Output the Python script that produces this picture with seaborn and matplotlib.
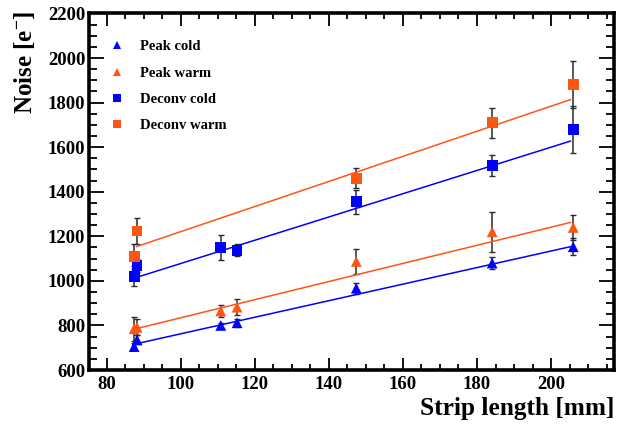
import numpy as np
import pandas as pd
import matplotlib
matplotlib.use("Agg")
import matplotlib.pyplot as plt
from matplotlib.ticker import MultipleLocator
import seaborn as sns

# Measured noise versus strip length, peak and deconvolution modes
series_names = ["Peak cold", "Peak warm", "Deconv cold", "Deconv warm"]

strip_length = [87.4, 88.2, 110.8, 115.2, 147.4, 184.1, 206.0]
strip_length_dw = [87.4, 88.2, 147.4, 184.1, 206.0]

peak_cold = [705, 735, 800, 812, 967, 1080, 1153]
peak_cold_err = [15, 20, 12, 18, 25, 25, 38]

peak_warm = [785, 792, 865, 882, 1087, 1220, 1240]
peak_warm_err = [55, 35, 27, 36, 57, 90, 55]

deconv_cold = [1020, 1068, 1150, 1138, 1355, 1517, 1680]
deconv_cold_err = [45, 30, 55, 28, 55, 48, 105]

deconv_warm = [1110, 1224, 1460, 1710, 1880]
deconv_warm_err = [55, 57, 45, 68, 105]

# Straight-line fit results (slope, intercept) for each series
fit_slope = [3.715, 4.065, 5.22, 5.63]
fit_intercept = [391, 428, 556, 658]
fit_range = [88.0, 205.3]

colors = {"Peak cold": "#0000ff", "Peak warm": "#ff5511",
          "Deconv cold": "#0000ff", "Deconv warm": "#ff5511"}
markers = {"Peak cold": "^", "Peak warm": "^",
           "Deconv cold": "s", "Deconv warm": "s"}

frames = []
for name, xs, ys, es in [
    ("Peak cold", strip_length, peak_cold, peak_cold_err),
    ("Peak warm", strip_length, peak_warm, peak_warm_err),
    ("Deconv cold", strip_length, deconv_cold, deconv_cold_err),
    ("Deconv warm", strip_length_dw, deconv_warm, deconv_warm_err),
]:
    frames.append(pd.DataFrame({"length": xs, "noise": ys, "err": es, "series": name}))
df = pd.concat(frames, ignore_index=True)

sns.set_style("white")
plt.rcParams["font.family"] = ["Liberation Serif", "DejaVu Serif"]
plt.rcParams["font.weight"] = "bold"
plt.rcParams["text.color"] = "black"
plt.rcParams["axes.labelcolor"] = "black"
plt.rcParams["xtick.color"] = "black"
plt.rcParams["ytick.color"] = "black"
plt.rcParams["mathtext.fontset"] = "custom"
plt.rcParams["mathtext.rm"] = "Liberation Serif:bold"
plt.rcParams["mathtext.bf"] = "Liberation Serif:bold"
plt.rcParams["mathtext.it"] = "Liberation Serif:bold:italic"

fig = plt.figure(figsize=(6.19, 4.28), dpi=100)
ax = fig.add_axes([0.1443, 0.1355, 0.9919 - 0.1443, 0.9685 - 0.1355])

# error bars
ax.errorbar(df["length"], df["noise"], yerr=df["err"], fmt="none",
            ecolor="#2b2b2b", elinewidth=1.1, capsize=2.2, capthick=1.0, zorder=2)

# fitted lines
xfit = np.array(fit_range)
for name, m, b in zip(series_names, fit_slope, fit_intercept):
    sns.lineplot(x=xfit, y=m * xfit + b, color=colors[name], lw=1.1, ax=ax, zorder=3)

sns.scatterplot(data=df, x="length", y="noise", hue="series", style="series",
                hue_order=series_names, style_order=series_names,
                palette=colors, markers=markers, s=60, linewidth=0,
                ax=ax, zorder=4)

ax.set_xlim(75.3, 217.0)
ax.set_ylim(600, 2200)
ax.xaxis.set_major_locator(MultipleLocator(20))
ax.xaxis.set_minor_locator(MultipleLocator(5))
ax.yaxis.set_major_locator(MultipleLocator(200))
ax.yaxis.set_minor_locator(MultipleLocator(50))

ax.tick_params(which="both", direction="in", top=True, right=True,
               bottom=True, left=True, width=1.3, colors="black")
ax.tick_params(axis="x", which="major", length=9, labelsize=13.5, pad=4)
ax.tick_params(axis="x", which="minor", length=4.5)
ax.tick_params(axis="y", which="major", length=11, labelsize=13.5, pad=3)
ax.tick_params(axis="y", which="minor", length=5.5)
for lab in ax.get_xticklabels() + ax.get_yticklabels():
    lab.set_fontweight("bold")
    lab.set_color("black")

for sp in ax.spines.values():
    sp.set_linewidth(2.6)
    sp.set_color("black")

ax.set_xlabel("")
ax.set_ylabel("")
fig.text(0.9919, 0.03, "Strip length [mm]", ha="right", va="baseline",
         fontsize=18.3, fontweight="bold", color="black")
fig.text(0.02, 0.975, "Noise [e$^{-}$]", ha="left", va="top", rotation=90,
         fontsize=18, fontweight="bold", color="black")

handles, labels = ax.get_legend_handles_labels()
leg = ax.legend(handles, labels, loc="upper left", bbox_to_anchor=(0.0, 0.962),
                frameon=False, fontsize=10.5, handletextpad=0.6,
                labelspacing=0.9, markerscale=0.75)
for t in leg.get_texts():
    t.set_fontweight("bold")
    t.set_color("black")

fig.savefig("out.png", dpi=100)
